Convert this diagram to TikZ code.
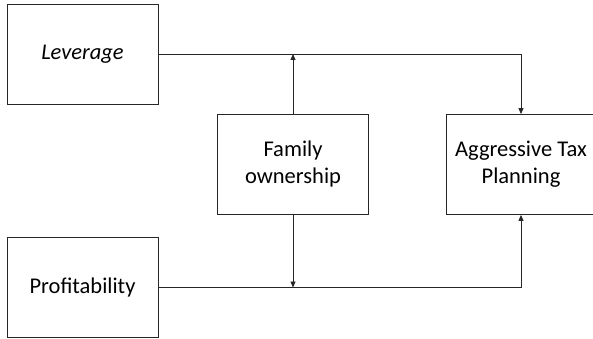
\documentclass[tikz,border=0pt]{standalone}
\usepackage{fontspec}
\setmainfont{Carlito}
\usetikzlibrary{arrows.meta}
\tikzset{
  box/.style={rectangle, draw=black!85, fill=white, line width=0.8pt,
              inner sep=0pt, minimum width=151pt, minimum height=100pt,
              align=center, font=\fontsize{22.5}{27}\selectfont},
  link/.style={draw=black!85, line width=0.8pt},
  arr/.style={link, -{Triangle[length=6pt, width=5pt]}},
}
\begin{document}
\begin{tikzpicture}[x=1pt, y=-1pt]
    \useasboundingbox (0,0) rectangle (593,339);
    %% boxes
    \node[box] (lev)  at (82.5,54)   {\textit{Leverage}};
    \node[box] (fam)  at (293,164.5) {Family\\ownership};
    \node[box, minimum width=150pt] (atp) at (521,164.5) {Aggressive Tax\\Planning};
    \node[box] (prof) at (82.5,287.5) {Profitability};
    %% main paths
    \draw[arr] (lev.east) -| (atp.north);
    \draw[arr] (prof.east) -| (atp.south);
    %% moderator
    \draw[arr] (fam.north) -- (fam.north |- lev.east);
    \draw[arr] (fam.south) -- (fam.south |- prof.east);
\end{tikzpicture}
\end{document}
